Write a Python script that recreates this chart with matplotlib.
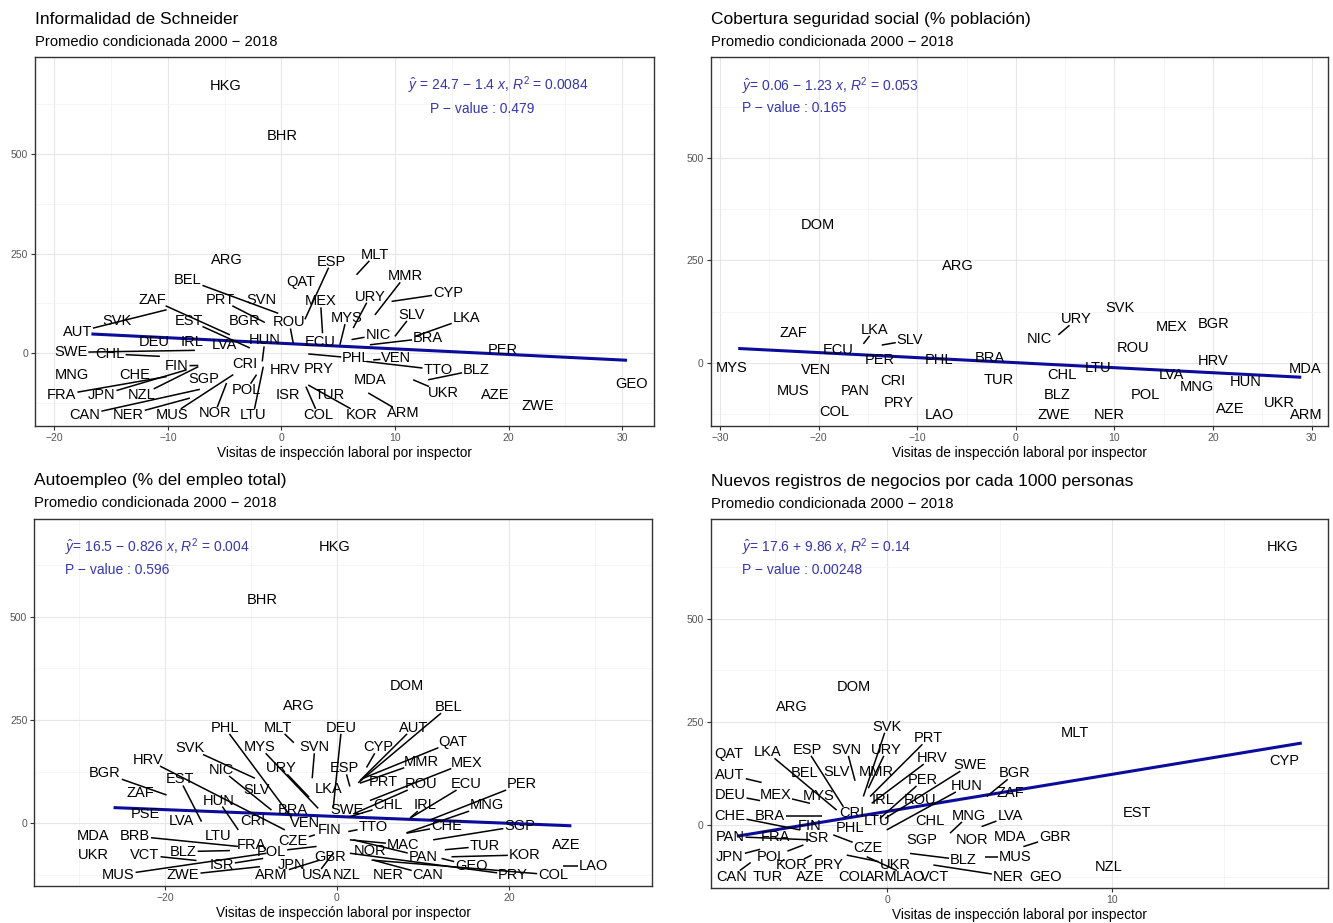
import matplotlib

matplotlib.use('Agg')
import matplotlib.pyplot as plt
from matplotlib.ticker import MultipleLocator
import numpy as np

plt.rcParams['font.family'] = ['Liberation Sans', 'DejaVu Sans']
plt.rcParams['mathtext.fontset'] = 'custom'
plt.rcParams['mathtext.rm'] = 'Liberation Sans'
plt.rcParams['mathtext.it'] = 'Liberation Sans:italic'

# ---------------- Panel 1: Informalidad de Schneider ----------------
p1_codes = ['HKG', 'BHR', 'ARG', 'ESP', 'QAT', 'BEL', 'ZAF', 'PRT', 'SVN', 'MEX',
            'SVK', 'EST', 'BGR', 'ROU', 'AUT', 'DEU', 'IRL', 'LVA', 'HUN', 'ECU',
            'SWE', 'CHL', 'FIN', 'CRI', 'MNG', 'CHE', 'HRV', 'PRY', 'SGP', 'FRA',
            'JPN', 'NZL', 'CAN', 'NER', 'MUS', 'NOR', 'POL', 'LTU', 'ISR', 'COL',
            'TUR', 'KOR', 'PHL', 'MLT', 'MMR', 'URY', 'CYP', 'MYS', 'SLV', 'LKA',
            'NIC', 'BRA', 'PER', 'VEN', 'TTO', 'BLZ', 'MDA', 'UKR', 'AZE', 'ZWE',
            'GEO', 'ARM']
# label positions
p1_lx = [-4.9, 0.1, -4.8, 4.4, 1.7, -8.26, -11.37, -5.36, -1.75, 3.44,
         -14.5, -8.12, -3.27, 0.69, -17.98, -11.23, -7.91, -5.06, -1.46, 3.39,
         -18.56, -15.1, -9.23, -3.22, -18.47, -12.9, 0.31, 3.24, -6.83, -19.35,
         -15.83, -12.31, -17.3, -13.49, -9.67, -5.86, -3.07, -2.48, 0.54, 3.24,
         4.27, 7.05, 6.61, 8.23, 10.87, 7.79, 14.68, 5.73, 11.46, 16.3,
         8.52, 12.92, 19.52, 10.13, 13.8, 17.18, 7.79, 14.24, 18.79, 22.6,
         30.82, 10.72]
p1_ly = [672, 546, 234, 230, 178, 184, 134, 134, 134, 130,
         80, 82, 80, 77, 53, 29, 29, 21, 32, 29,
         2, -2, -32, -27, -54, -54, -42, -40, -65, -105,
         -105, -105, -155, -155, -155, -151, -92, -155, -105, -155,
         -105, -155, -13, 247, 193, 142, 151, 88, 96, 88,
         46, 38, 8, -13, -42, -42, -67, -99, -105, -132,
         -77, -151]
# data points (end of the leader segment)
p1_px = [-4.9, 0.1, -4.8, 2.07, 1.7, -0.28, -4.54, -1.46, -1.75, 3.62,
         -14.5, -2.78, -3.27, 1.04, -10.11, -11.23, -7.91, -5.06, -1.69, 3.39,
         -7.62, -10.7, -7.32, -3.22, -18.47, -12.9, 0.31, 3.24, -6.83, -10.11,
         -8.35, -7.32, -7.18, -8.06, -4.24, -4.83, -2.19, -1.6, 0.54, 2.15,
         4.27, 2.36, 2.36, 6.61, 8.23, 6.32, 9.7, 5.15, 9.99, 11.75,
         6.17, 7.79, 19.52, 8.08, 7.49, 12.92, 7.79, 11.6, 18.79, 22.6,
         30.82, 7.64]
p1_py = [672, 546, 234, 85, 178, 100, 46, 77, 134, 50,
         80, 13, 80, 25, 109, 29, 29, 21, -21, 29,
         7, -8, -31, -27, -54, -54, -42, -40, -65, -59,
         -42, -34, -91, -113, -54, -75, -54, -34, -105, -84,
         -105, -80, -2, 197, 96, 63, 130, 21, 42, 42,
         34, 21, 8, -17, -21, -67, -67, -67, -105, -132,
         -77, -100]
p1_fit = [24.7, -1.4, -16.6, 30.3]  # intercept, slope, x from, x to

# ---------------- Panel 2: Cobertura seguridad social ----------------
p2_codes = ['DOM', 'ARG', 'ZAF', 'LKA', 'SLV', 'ECU', 'PER', 'PHL', 'BRA', 'MYS',
            'VEN', 'CRI', 'MUS', 'PAN', 'PRY', 'COL', 'LAO', 'TUR', 'SVK', 'URY',
            'NIC', 'MEX', 'BGR', 'ROU', 'HRV', 'MDA', 'CHL', 'LTU', 'LVA', 'HUN',
            'MNG', 'BLZ', 'POL', 'UKR', 'AZE', 'ZWE', 'NER', 'ARM']
p2_lx = [-20.03, -5.9, -22.56, -14.35, -10.73, -18.0, -13.84, -7.76, -2.62, -28.82,
         -20.26, -12.42, -22.56, -16.31, -11.91, -18.44, -7.76, -1.77, 10.57, 6.17,
         2.39, 15.81, 20.03, 11.92, 19.97, 29.33, 4.65, 8.37, 15.81, 23.35,
         18.34, 4.21, 13.1, 26.78, 21.72, 3.8, 9.49, 29.5]
p2_ly = [336, 236, 73, 80, 55, 31, 6.5, 6.5, 10.6, -14,
         -18, -44, -68, -68, -99, -120, -128, -42, 133, 106,
         57, 88, 94.5, 35, 5, -16, -30, -14, -30, -46,
         -59, -79, -79, -98, -112, -128, -128, -128]
p2_px = [-20.03, -5.9, -22.56, -15.46, -13.6, -18.0, -13.84, -7.76, -2.62, -28.82,
         -20.26, -12.42, -22.56, -16.31, -11.91, -18.44, -7.76, -1.77, 10.57, 4.31,
         2.39, 15.81, 20.03, 11.92, 19.97, 29.33, 4.65, 8.37, 15.81, 23.35,
         18.34, 4.21, 13.1, 26.78, 21.72, 3.8, 9.49, 29.5]
p2_py = [336, 236, 73, 46, 43, 31, 6.5, 6.5, 10.6, -14,
         -18, -44, -68, -68, -99, -120, -128, -42, 133, 68,
         57, 88, 94.5, 35, 5, -16, -30, -14, -30, -46,
         -59, -79, -79, -98, -112, -128, -128, -128]
p2_fit = [0.06, -1.23, -28.0, 28.8]

# ---------------- Panel 3: Autoempleo ----------------
p3_codes = ['BHR', 'HKG', 'ARG', 'PHL', 'MLT', 'DEU', 'SVK', 'MYS', 'SVN', 'HRV',
            'NIC', 'URY', 'BGR', 'EST', 'SLV', 'LKA', 'ZAF', 'HUN', 'BRA', 'PSE',
            'LVA', 'CRI', 'VEN', 'FIN', 'MDA', 'BRB', 'LTU', 'FRA', 'CZE', 'UKR',
            'VCT', 'BLZ', 'POL', 'ISR', 'MUS', 'ZWE', 'JPN', 'ARM', 'USA', 'GBR',
            'DOM', 'BEL', 'AUT', 'QAT', 'CYP', 'MMR', 'MEX', 'ESP', 'PRT', 'ROU',
            'ECU', 'PER', 'CHL', 'IRL', 'MNG', 'SWE', 'TTO', 'CHE', 'SGP', 'MAC',
            'TUR', 'KOR', 'NOR', 'PAN', 'GEO', 'PRY', 'COL', 'AZE', 'LAO', 'NZL',
            'NER', 'CAN']
p3_lx = [-8.64, -0.3, -4.38, -13.02, -6.82, 0.54, -17.09, -8.95, -2.56, -21.94,
         -13.41, -6.43, -26.98, -18.26, -9.34, -1.0, -22.91, -13.8, -5.08, -22.33,
         -18.06, -9.73, -3.72, -0.81, -28.33, -23.49, -13.8, -9.92, -5.08, -28.33,
         -22.33, -17.87, -7.6, -13.41, -25.43, -17.87, -5.27, -7.6, -2.36, -0.81,
         8.1, 12.95, 8.88, 13.53, 4.81, 9.84, 15.08, 0.93, 5.39, 9.84,
         15.08, 21.47, 5.97, 10.23, 17.4, 1.12, 4.22, 12.75, 21.28, 7.71,
         17.21, 21.86, 3.84, 10.04, 15.66, 20.5, 25.16, 26.71, 29.81, 1.13,
         5.97, 10.62]
p3_ly = [540, 669, 284, 231, 231, 231, 181, 184, 184, 153,
         129, 133, 121, 106, 81, 82, 72.5, 55, 32, 22.5,
         6.4, 6.4, 1.5, -16, -31, -31, -31, -52, -44, -77,
         -77, -68.5, -68.5, -101, -125, -125, -101, -125, -125, -82,
         332, 281, 231, 197.5, 184, 149, 147, 133, 101, 95,
         95, 95, 44, 44, 44, 32, -8, -6.4, -6.4, -52,
         -55, -76.5, -66, -81, -103, -125, -125, -52, -103, -125,
         -125, -125]
p3_px = [-8.64, -0.3, -4.38, -5.27, -5.0, -0.43, -9.53, -2.17, -2.87, -6.05,
         -7.6, -3.22, -19.81, -15.74, -9.34, -1.0, -22.91, -11.47, -5.08, -22.33,
         -18.06, -9.73, -3.72, -0.81, -28.33, -11.47, -13.8, -9.92, -2.56, -28.33,
         -16.32, -12.44, -2.36, -8.57, -8.18, -8.95, -5.27, -1.98, -0.43, -0.81,
         8.1, 2.48, 2.67, 3.06, 3.45, 2.67, 3.84, 1.51, 5.39, 1.9,
         8.49, 10.81, 1.51, 8.57, 8.1, 1.12, 1.32, 8.1, 11.2, 1.51,
         12.56, 13.33, 3.84, 1.9, 12.17, 1.51, 4.03, 26.71, 26.32, 1.13,
         5.97, 4.22]
p3_py = [540, 669, 284, 14, 195, 36, 109, 36, 109, -16,
         32, 63, 68.5, 4, 81, 82, 72.5, -16, 32, 22.5,
         6.4, 6.4, 1.5, -16, -31, -56, -31, -52, -28, -77,
         -90, -66, -56, -85, -72.5, -105, -101, -89, -72.5, -82,
         332, 98, 103, 109, 135, 97, 55, 89, 101, 22.5,
         12, 8, 16, 14, -23, 32, -20, -24, -40, -40,
         -64, -81, -66, -40, -85, -72.5, -89, -52, -103, -125,
         -125, -89]
p3_fit = [16.5, -0.826, -25.8, 27.1]

# ---------------- Panel 4: Nuevos registros de negocios ----------------
p4_codes = ['HKG', 'DOM', 'ARG', 'MLT', 'CYP', 'EST', 'NZL', 'SVK', 'PRT', 'QAT',
            'LKA', 'ESP', 'SVN', 'URY', 'HRV', 'SWE', 'AUT', 'BEL', 'SLV', 'MMR',
            'PER', 'HUN', 'BGR', 'ZAF', 'DEU', 'MEX', 'MYS', 'IRL', 'ROU', 'CRI',
            'CHE', 'BRA', 'LTU', 'CHL', 'MNG', 'LVA', 'FIN', 'PHL', 'PAN', 'FRA',
            'CZE', 'SGP', 'NOR', 'MDA', 'GBR', 'ISR', 'JPN', 'POL', 'KOR', 'PRY',
            'UKR', 'BLZ', 'MUS', 'CAN', 'TUR', 'AZE', 'COL', 'ARM', 'LAO', 'VCT',
            'NER', 'GEO']
p4_lx = [17.62, -1.49, -4.26, 8.36, 17.68, 11.14, 9.85, -0.03, 1.83, -7.09,
         -5.35, -3.57, -1.81, -0.03, 1.98, 3.68, -7.01, -3.67, -2.26, -0.48,
         1.6, 3.54, 5.69, 5.47, -7.01, -5.0, -3.07, -0.18, 1.46, -1.59,
         -7.01, -5.23, -0.48, 1.9, 3.61, 5.47, -3.45, -1.66, -7.01, -5.0,
         -0.85, 1.53, 3.76, 5.47, 7.47, -3.15, -7.01, -5.15, -4.26, -2.63,
         0.34, 3.39, 5.69, -6.94, -5.35, -3.42, -1.52, -0.25, 1.01, 2.12,
         5.39, 7.03]
p4_ly = [673, 334, 285, 222, 154, 28, -101, 238, 210, 172,
         176, 182, 182, 182, 162, 145, 121, 125, 129, 129,
         109, 94.5, 125, 77, 73, 73, 69, 61, 61, 30,
         22, 22, 10.5, 10.5, 22, 22, -2.4, -8, -28, -30,
         -56.5, -36, -36, -28, -28, -32, -78, -78, -97, -97,
         -97, -85, -77, -125, -125, -125, -125, -125, -125, -125,
         -125, -127]
p4_px = [17.62, -1.49, -4.26, 8.36, 17.68, 11.14, 9.85, -1.07, -0.77, -7.09,
         -2.26, -1.96, -1.44, -0.85, -0.7, -0.1, -5.6, -3.67, -2.26, -0.48,
         -0.33, -0.03, 4.43, 5.47, -5.67, -3.45, -3.07, -0.18, 1.46, -1.59,
         -3.89, -2.93, -0.48, 1.9, 2.79, 4.2, -3.45, -1.66, -3.45, -5.0,
         -2.41, 1.53, 3.76, 5.47, 6.06, -3.15, -5.67, -3.74, -3.37, -3.0,
         -1.81, 1.01, 4.35, -6.09, -5.35, -3.42, -1.52, -0.25, -0.92, 2.12,
         2.05, 7.03]
p4_py = [673, 334, 285, 222, 154, 28, -101, 69, 69, 172,
         36, 44, 107, 89, 52.5, 16, 103, 125, 129, 129,
         16, -12, 69, 77, 59, 52.5, 69, 61, 61, 30,
         -12, 22, 10.5, 10.5, -20, -4, -2.4, -8, -36, -30,
         -24, -36, -36, -28, -52.5, -32, -59, -48.5, -73, -81,
         -73, -69, -77, -91, -125, -125, -125, -125, -77, -125,
         -97, -127]
p4_fit = [32.9, 8.97, -6.64, 18.4]

titles = ['Informalidad de Schneider',
          'Cobertura seguridad social (% población)',
          'Autoempleo (% del empleo total)',
          'Nuevos registros de negocios por cada 1000 personas']
subtitle = 'Promedio condicionada 2000 − 2018'
xlabel = 'Visitas de inspección laboral por inspector'
eq_texts = [r'$\hat{y}$ = 24.7 − 1.4 $x$, $R^2$ = 0.0084',
            r'$\hat{y}$= 0.06 − 1.23 $x$, $R^2$ = 0.053',
            r'$\hat{y}$= 16.5 − 0.826 $x$, $R^2$ = 0.004',
            r'$\hat{y}$= 17.6 + 9.86 $x$, $R^2$ = 0.14']
pval_texts = ['P − value : 0.479', 'P − value : 0.165',
              'P − value : 0.596', 'P − value : 0.00248']

fig = plt.figure(figsize=(13.33, 9.23), dpi=100)
renderer = fig.canvas.get_renderer()


def draw_panel(rect, codes, lx, ly, px, py, fit, xlim, ylim, xstep, eq_pos, idx):
    ax = fig.add_axes(rect)
    ax.set_xlim(xlim)
    ax.set_ylim(ylim)
    ax.xaxis.set_major_locator(MultipleLocator(xstep))
    ax.xaxis.set_minor_locator(MultipleLocator(xstep / 2))
    ax.yaxis.set_major_locator(MultipleLocator(250))
    ax.yaxis.set_minor_locator(MultipleLocator(125))
    ax.grid(which='major', color='#e6e6e6', lw=0.8)
    ax.grid(which='minor', color='#f1f1f1', lw=0.5)
    ax.set_axisbelow(True)
    for s in ax.spines.values():
        s.set_color('#333333')
        s.set_linewidth(1.0)
    ax.tick_params(which='major', length=3, color='#333333', labelcolor='#555555',
                   labelsize=7.5, pad=2)
    ax.tick_params(which='minor', length=0)

    # regression line
    xs = np.array([fit[2], fit[3]])
    ax.plot(xs, fit[0] + fit[1] * xs, color='#0b0b9c', lw=2.2, zorder=2)

    # labels + leader segments (ggrepel style)
    inv = ax.transData.inverted()
    for code, x0, y0, x1, y1 in zip(codes, lx, ly, px, py):
        t = ax.text(x0, y0, code, ha='center', va='center', fontsize=10.5,
                    color='black', zorder=4)
        bb = t.get_window_extent(renderer)
        cx, cy = (bb.x0 + bb.x1) / 2, (bb.y0 + bb.y1) / 2
        hw, hh = bb.width / 2 + 1, bb.height / 2 - 1
        p = ax.transData.transform((x1, y1))
        dx, dy = p[0] - cx, p[1] - cy
        if abs(dx) <= hw and abs(dy) <= hh:
            continue
        scale = min(hw / abs(dx) if dx != 0 else 1e9, hh / abs(dy) if dy != 0 else 1e9)
        ex, ey = cx + dx * scale, cy + dy * scale
        if np.hypot(p[0] - ex, p[1] - ey) < 4:
            continue
        e = inv.transform((ex, ey))
        ax.plot([x1, e[0]], [y1, e[1]], color='black', lw=1.1, zorder=3,
                solid_capstyle='butt')

    # equation and p-value
    ax.text(eq_pos[0], eq_pos[1], eq_texts[idx], ha='left', va='center',
            fontsize=10, color='#3535b0', zorder=5)
    ax.text(eq_pos[2], eq_pos[3], pval_texts[idx], ha='left', va='center',
            fontsize=10, color='#3535b0', zorder=5)

    # titles
    fig.text(rect[0], rect[1] + rect[3] + 0.041, titles[idx], ha='left', va='center',
             fontsize=12.5, color='black')
    fig.text(rect[0], rect[1] + rect[3] + 0.0165, subtitle, ha='left', va='center',
             fontsize=10.6, color='black')
    fig.text(rect[0] + rect[2] / 2, rect[1] - 0.0295, xlabel, ha='center', va='center',
             fontsize=9.8, color='black')
    return ax


draw_panel([0.02626, 0.5385, 0.4643, 0.3997], p1_codes, p1_lx, p1_ly, p1_px, p1_py,
           p1_fit, (-21.7, 32.8), (-183, 744), 10, (11.16, 672, 13.07, 613), 0)
draw_panel([0.5332, 0.5385, 0.4630, 0.3997], p2_codes, p2_lx, p2_ly, p2_px, p2_py,
           p2_fit, (-30.94, 31.66), (-154.6, 746.6), 10, (-27.8, 676, -27.8, 621), 1)
draw_panel([0.0257, 0.0401, 0.4637, 0.3979], p3_codes, p3_lx, p3_ly, p3_px, p3_py,
           p3_fit, (-35.2, 36.7), (-151.7, 737), 20, (-31.6, 669, -31.6, 614), 2)
draw_panel([0.5332, 0.0383, 0.4633, 0.3991], p4_codes, p4_lx, p4_ly, p4_px, p4_py,
           p4_fit, (-7.87, 19.65), (-151.9, 740.7), 10, (-6.49, 673, -6.49, 618), 3)

fig.savefig('out.png', dpi=100, facecolor='white')
